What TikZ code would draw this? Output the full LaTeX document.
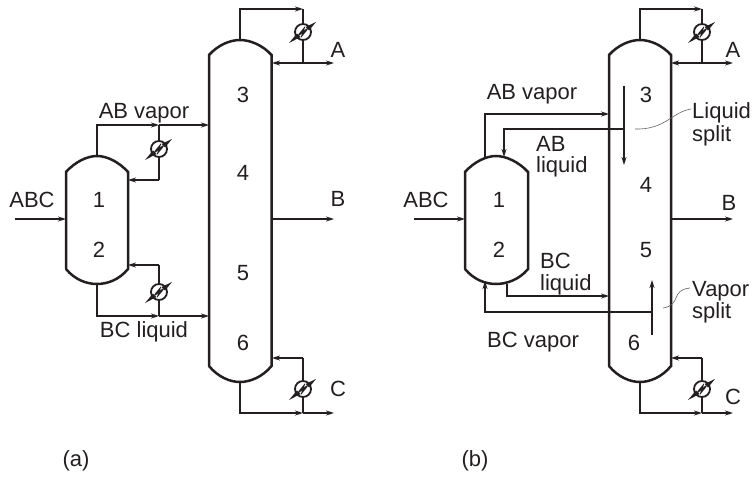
\documentclass[tikz,border=0pt]{standalone}
\usepackage{fontspec}
\setmainfont{Liberation Sans}
\usetikzlibrary{arrows.meta,calc}
\definecolor{ink}{HTML}{231F20}
\tikzset{
  x=1pt,y=-1pt,
  every node/.style={text=ink,font=\fontsize{22}{24}\selectfont,inner sep=0pt},
  wall/.style={draw=ink,line width=2.5pt},
  pipe/.style={draw=ink,line width=1.7pt},
  flow/.style={pipe,-{Stealth[length=8pt,width=5pt]}},
  tiny/.style={draw=ink!70,line width=.6pt},
  hx/.style={circle,draw=ink,line width=1.8pt,fill=white,minimum size=16pt},
  lab/.style={anchor=base west},
}
% \vessel{name}{cx}{left}{right}{peak}{topshoulder}{botshoulder}{bottom}
\newcommand{\vessel}[8]{%
  \draw[wall] (#3,#7) -- (#3,#6) .. controls (#3+9,#6-10) and (#2-10,#5) .. (#2,#5)
     .. controls (#2+10,#5) and (#4-9,#6-10) .. (#4,#6) -- (#4,#7)
     .. controls (#4-9,#7+11) and (#2+10,#8) .. (#2,#8)
     .. controls (#2-10,#8) and (#3+9,#7+11) .. (#3,#7);
  \coordinate (#1t) at (#2,#5);
  \coordinate (#1b) at (#2,#8);
}
% \exch{name}{x}{y}
\newcommand{\exch}[3]{%
  \node[hx] (#1) at (#2,#3) {};
  \begin{scope}[shift={(#2,#3)}]
    \fill[ink] (-14,11) -- (-6,1.5) -- (-2.5,5) -- cycle;
    \fill[ink] (13,-10) -- (6,-1.5) -- (2.5,-5) -- cycle;
    \draw[ink,line width=1.8pt] (-4,3) -- (0.5,-2.5) -- (-0.5,2.5) -- (4,-3);
  \end{scope}
}
\begin{document}
\begin{tikzpicture}
\useasboundingbox (0,0) rectangle (754,476);
%% Panel (a)
\vessel{aM}{240}{209}{271.5}{40}{55}{366}{382}
\vessel{aS}{97}{66}{128}{156}{172}{269}{284}
\exch{aC1}{303}{32}
\exch{aC2}{159}{149}
\exch{aC3}{159}{292}
\exch{aC4}{303}{389}
\foreach \n/\x/\y in {aTc/303/9,aTj/303/63,aTe/334/63,aTi/272/63,aBe/334/219,aBi/272/219,
  aVj/159/125,aVi/209/125,aVr/128/180,aVc/159/180,aFs/15/219,aFi/66/219,
  aLj/159/316,aLi/209/316,aLr/128/265,aLc/159/265,aDj/303/413,aDe/334/413,aDr/272/358,aDc/303/358}
  \coordinate (\n) at (\x,\y);
\draw[flow] (aMt) |- (aTc);
\draw[pipe] (aTc) -- (aC1) -- (aTj);
\draw[flow] (aTj) -- (aTe);
\draw[flow] (aTj) -- (aTi);
\draw[flow] (aBi) -- (aBe);
\draw[flow] (aFs) -- (aFi);
\draw[flow] (aSt) |- (aVj);
\draw[flow] (aVj) -- (aVi);
\draw[pipe] (aVj) -- (aC2) -- (aVc);
\draw[flow] (aVc) -- (aVr);
\draw[flow] (aSb) |- (aLj);
\draw[flow] (aLj) -- (aLi);
\draw[pipe] (aLj) -- (aC3) -- (aLc);
\draw[flow] (aLc) -- (aLr);
\draw[flow] (aMb) |- (aDj);
\draw[flow] (aDj) -- (aDe);
\draw[pipe] (aDj) -- (aC4) -- (aDc);
\draw[flow] (aDc) -- (aDr);
\node (an3) at (243,95) {3};
\node (an4) at (243,173) {4};
\node (an5) at (243,273) {5};
\node (an6) at (243,343) {6};
\node (an1) at (99,200) {1};
\node (an2) at (99,250) {2};
\node (alA) at (338,49.5) {A};
\node (alB) at (338,199) {B};
\node (alC) at (338,389) {C};
\node (alABC) at (32,200) {ABC};
\node (alV) at (144,113) {AB vapor};
\node (alL) at (144,332) {BC liquid};
\node (alp) at (76,461) {(a)};
%% Panel (b)
\vessel{bM}{640}{609}{671}{40}{55}{366}{382}
\vessel{bS}{496}{465}{528}{156}{172}{269}{284}
\exch{bC1}{702}{32}
\exch{bC4}{702}{389}
\foreach \n/\x/\y in {bTc/702/9,bTj/702/63,bTe/733/63,bTi/671/63,bBe/733/219,bBi/671/219,
  bFs/414/219,bFi/465/219,bVs/485/157,bVi/609/114,bVc/485/114,
  bAj/624/129,bAe/504/157,bAc/504/129,bUt/624/86,bUb/624/165,
  bLs/507/284,bLc/507/296,bLi/609/296,bRj/652/312,bRe/485/281,bRc/485/312,bWb/652/335,bWt/652/280,
  bDj/702/413,bDe/733/413,bDr/671/358,bDc/702/358,
  bQa/635/129,bQb/691/109,bPa/663/308,bPb/690/288}
  \coordinate (\n) at (\x,\y);
\draw[flow] (bMt) |- (bTc);
\draw[pipe] (bTc) -- (bC1) -- (bTj);
\draw[flow] (bTj) -- (bTe);
\draw[flow] (bTj) -- (bTi);
\draw[flow] (bBi) -- (bBe);
\draw[flow] (bFs) -- (bFi);
\draw[flow] (bVs) -- (bVc) -- (bVi);
\draw[flow] (bAj) -- (bAc) -- (bAe);
\draw[flow] (bUt) -- (bUb);
\draw[flow] (bLs) -- (bLc) -- (bLi);
\draw[flow] (bRj) -- (bRc) -- (bRe);
\draw[flow] (bWb) -- (bWt);
\draw[flow] (bMb) |- (bDj);
\draw[flow] (bDj) -- (bDe);
\draw[pipe] (bDj) -- (bC4) -- (bDc);
\draw[flow] (bDc) -- (bDr);
\draw[tiny] (bQa) .. controls (665,130) and (672,112) .. (bQb);
\draw[tiny] (bPa) .. controls (682,305) and (670,290) .. (bPb);
\node (bn3) at (646,95) {3};
\node (bn4) at (646,185) {4};
\node (bn5) at (646,250) {5};
\node (bn6) at (634,343) {6};
\node (bn1) at (499,200) {1};
\node (bn2) at (499,250) {2};
\node (blA) at (733,49.5) {A};
\node (blB) at (729,203) {B};
\node (blC) at (733,397) {C};
\node (blABC) at (426,200) {ABC};
\node (blV) at (532,94) {AB vapor};
\node (blR) at (533,342) {BC vapor};
\node[lab] (blAB) at (536,151) {AB};
\node[lab] (blALq) at (536,172) {liquid};
\node[lab] (blBC) at (540,268) {BC};
\node[lab] (blBLq) at (540,290) {liquid};
\node[lab] (blLq) at (692,118) {Liquid};
\node[lab] (blSp) at (692,141) {split};
\node[lab] (blVp) at (692,296) {Vapor};
\node[lab] (blSv) at (692,318) {split};
\node (blp) at (475,461) {(b)};
\end{tikzpicture}
\end{document}
